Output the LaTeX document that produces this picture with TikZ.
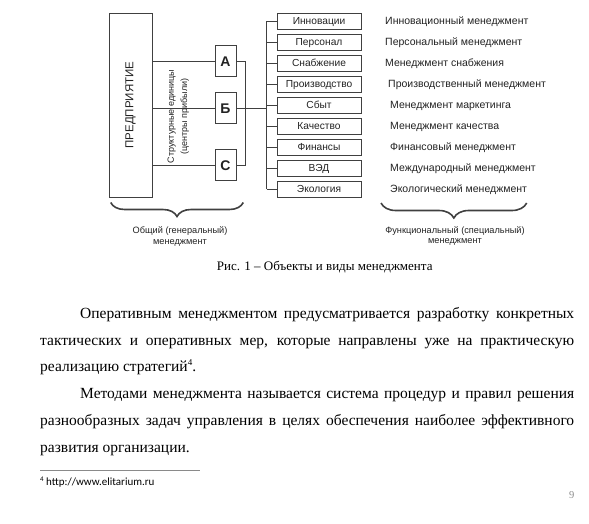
\documentclass[tikz,border=0pt]{standalone}
\usepackage{fontspec}
\setmainfont{Liberation Serif}
\newfontfamily\arialf{Liberation Sans}
\newfontfamily\calib{Carlito}
\usetikzlibrary{decorations.pathreplacing}
\definecolor{linec}{HTML}{404040}
\definecolor{txt}{HTML}{222222}
\definecolor{gray9}{HTML}{8A8A8A}
\begin{document}
\begin{tikzpicture}[x=1pt,y=-1pt,
  line/.style={draw=linec, line width=0.8pt},
  pbox/.style={draw=linec, line width=0.9pt, minimum width=43pt, minimum height=184pt, inner sep=0pt},
  abox/.style={draw=linec, line width=0.9pt, fill=white, minimum width=21pt, minimum height=31pt, inner sep=0pt, text height=10pt, text depth=0pt, font=\arialf\bfseries\fontsize{14}{14}\selectfont, text=txt},
  rbox/.style={draw=linec, line width=0.9pt, minimum width=84pt, minimum height=16pt, inner sep=0pt, text height=7.6pt, text depth=1.6pt, font=\arialf\fontsize{10.2}{10}\selectfont, text=txt},
  mlab/.style={anchor=west, inner sep=0pt, text height=7.6pt, text depth=1.6pt, font=\arialf\fontsize{10.5}{10}\selectfont, text=txt},
  blab/.style={align=center, inner sep=0pt, font=\arialf\fontsize{9.2}{10.5}\selectfont, text=txt},
  bracestyle/.style={draw=linec, line width=1.6pt, decorate, decoration={brace, amplitude=#1}},
  body/.style={anchor=mid west, inner sep=0pt, font=\fontsize{15.5}{18}\selectfont, text=black},
]
\useasboundingbox (0,0) rectangle (589,523);

% enterprise box
\node[pbox] (P) at (130.5,105) {};
\node[rotate=90, inner sep=0pt, font=\arialf\fontsize{11.5}{12}\selectfont, text=txt] (Ptxt) at (130.5,105) {ПРЕДПРИЯТИЕ};

% A B C
\node[abox] (A) at (225.5,61) {А};
\node[abox] (B) at (225.5,108) {Б};
\node[abox] (C) at (225.5,165) {С};

\coordinate (ja) at (245,61);
\coordinate (jc) at (245,165);
\coordinate (rt) at (266.7,21.3);
\coordinate (rb) at (266.7,189.3);

\draw[line] (P.east |- A) -- (A.west);
\draw[line] (P.east |- B) -- (B.west);
\draw[line] (P.east |- C) -- (C.west);
\draw[line] (A.east) -- (ja) -- (jc) -- (C.east);
\draw[line] (B.east) -- (rt |- B);
\draw[line] (rt) -- (rb);

\node[rotate=90, align=center, inner sep=0pt, font=\arialf\fontsize{9}{13.3}\selectfont, text=txt] (su) at (178.3,116.5) {Структурные единицы\\(центры прибыли)};

% right boxes
\foreach \i/\t/\m/\mx in {
  1/Инновации/Инновационный менеджмент/385,
  2/Персонал/Персональный менеджмент/385,
  3/Снабжение/Менеджмент снабжения/385,
  4/Производство/Производственный менеджмент/388,
  5/Сбыт/Менеджмент маркетинга/390,
  6/Качество/Менеджмент качества/390,
  7/Финансы/Финансовый менеджмент/390,
  8/ВЭД/Международный менеджмент/390,
  9/Экология/Экологический менеджмент/390}{
  \node[rbox] (r\i) at (319,0.3+21*\i) {\t};
  \draw[line] (rt |- r\i.west) -- (r\i.west);
  \node[mlab] (m\i) at (\mx,0.3+21*\i) {\m};
}

% braces
\coordinate (b1s) at (243.3,202.5);
\coordinate (b1e) at (110.7,202.5);
\coordinate (b2s) at (526.7,203);
\coordinate (b2e) at (381,203);
\draw[bracestyle=14pt] (b1s) -- (b1e);
\draw[bracestyle=15pt] (b2s) -- (b2e);
\node[blab] (g1) at (180,236.7) {Общий (генеральный)\\менеджмент};
\node[blab] (g2) at (455,236) {Функциональный (специальный)\\менеджмент};

% caption
\node[anchor=mid west, inner sep=0pt, font=\fontsize{13}{14}\selectfont] (cap) at (216.7,268.3) {Рис. 1 – Объекты и виды менеджмента};

% body text
\node[body] (l1) at (80,316.5) {\makebox[494pt][s]{Оперативным менеджментом предусматривается разработку конкретных}};
\node[body] (l2) at (40,343.5) {\makebox[534pt][s]{тактических и оперативных мер, которые направлены уже на практическую}};
\node[body] (l3) at (40,369.5) {реализацию стратегий{\fontsize{9}{9}\selectfont\raisebox{6pt}{4}}.};
\node[body] (l4) at (80,396.5) {\makebox[494pt][s]{Методами менеджмента называется система процедур и правил решения}};
\node[body] (l5) at (40,423) {\makebox[534pt][s]{разнообразных задач управления в целях обеспечения наиболее эффективного}};
\node[body] (l6) at (40,450) {развития организации.};

% footnote
\coordinate (fr1) at (40,470);
\coordinate (fr2) at (200,470);
\draw[draw=gray9, line width=0.9pt] (fr1) -- (fr2);
\node[anchor=mid west, inner sep=0pt, font=\calib\fontsize{11}{12}\selectfont] (fn) at (40,483.3) {{\fontsize{7}{7}\selectfont\raisebox{4pt}{4}} http://www.elitarium.ru};
\node[anchor=mid west, inner sep=0pt, font=\fontsize{10.5}{12}\selectfont, text=gray9] (pg) at (569,496) {9};
\end{tikzpicture}
\end{document}
